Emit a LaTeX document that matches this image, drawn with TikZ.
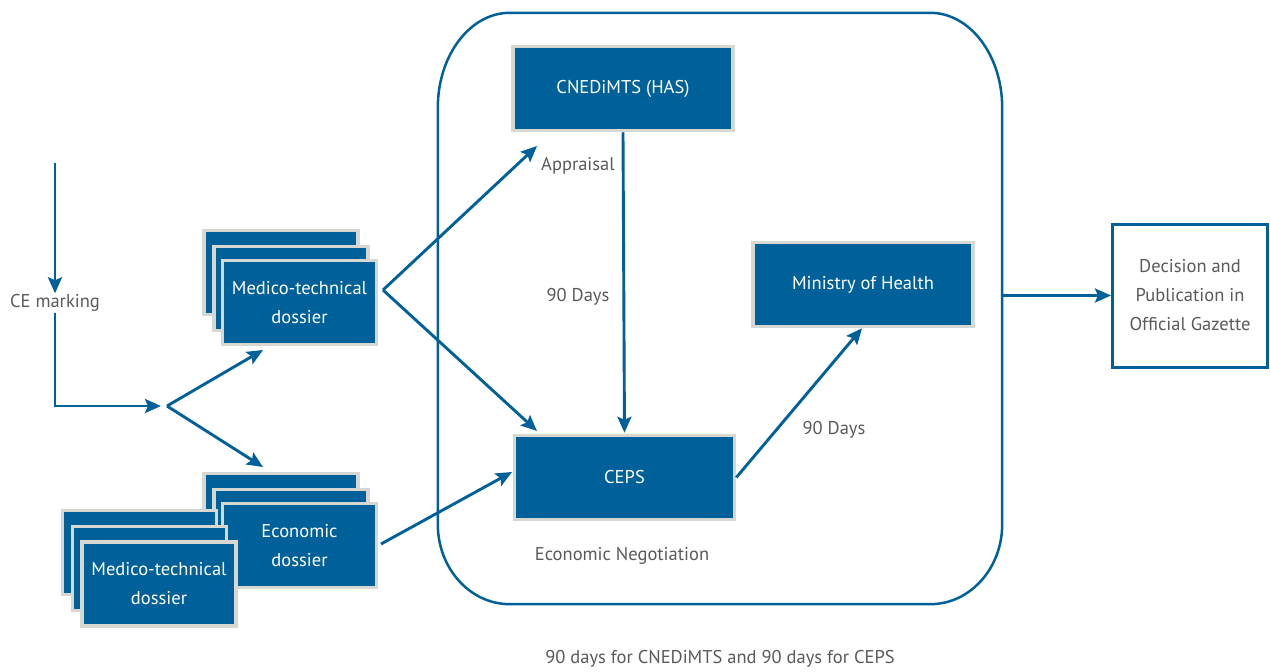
\documentclass[tikz,border=0pt]{standalone}
\usepackage{fontspec}
\setmainfont{PT Sans}
\usetikzlibrary{arrows.meta}
\definecolor{myblue}{HTML}{00609A}
\definecolor{mygray}{HTML}{D8D8D2}
\definecolor{txtgray}{HTML}{5A5A5A}
\begin{document}
\begin{tikzpicture}[x=1pt,y=-1pt,
  font=\fontsize{18.5}{21}\selectfont,
  bluebox/.style={fill=myblue, draw=mygray, line width=3.5pt, text=white, align=center, inner sep=0pt, minimum width=154pt, minimum height=84pt},
  bigbox/.style={bluebox, minimum width=220pt, minimum height=84pt},
  lbl/.style={text=txtgray, align=center, inner sep=1pt},
  conn/.style={draw=myblue, line width=2.9pt},
  arr/.style={conn, -{Stealth[length=16pt,width=14pt,inset=3pt]}}
]
\useasboundingbox (0,0) rectangle (1270,672);
\fill[white] (0,0) rectangle (1270,672);

% container
\node[minimum width=564pt, minimum height=591pt, inner sep=0pt] (frame) at (720,308.5) {};
\draw[myblue, line width=2.5pt]
  (frame.north west) ++(72,0) -- ([xshift=-72pt]frame.north east)
  arc[start angle=90, end angle=0, x radius=72, y radius=-95]
  -- ([yshift=80pt]frame.south east)
  arc[start angle=0, end angle=-90, x radius=72, y radius=-80]
  -- ([xshift=72pt]frame.south west)
  arc[start angle=270, end angle=180, x radius=72, y radius=-80]
  -- ([yshift=-95pt]frame.north west)
  arc[start angle=180, end angle=90, x radius=72, y radius=-95];

% main boxes
\node[bigbox] (cned) at (623,88.5) {CNEDiMTS (HAS)};
\node[bigbox] (ceps) at (624.5,477.5) {CEPS};
\node[bigbox] (min) at (863,284.5) {Ministry of Health};
\node[draw=myblue, fill=white, line width=3pt, minimum width=155pt, minimum height=143pt, inner sep=0pt, lbl, font=\fontsize{18.5}{29}\selectfont] (dec) at (1190,295.5) {Decision and\\Publication in\\Official Gazette};

% top medico-technical stack
\node[bluebox] (mtA) at (281,272.5) {};
\node[bluebox] (mtB) at (291,288.5) {};
\node[bluebox, font=\fontsize{18.5}{29}\selectfont] (mt) at (299.5,302.5) {Medico-technical\\dossier};

% economic stack
\node[bluebox] (ecA) at (281,515.5) {};
\node[bluebox] (ecB) at (291,531.5) {};
\node[bluebox, font=\fontsize{18.5}{29}\selectfont] (ec) at (299.5,545.5) {Economic\\dossier};

% lower medico-technical stack
\node[bluebox] (mlA) at (139.5,552.5) {};
\node[bluebox] (mlB) at (149.5,568.5) {};
\node[bluebox, font=\fontsize{18.5}{29}\selectfont] (ml) at (159,584) {Medico-technical\\dossier};

% labels
\node[lbl] (ce) at (55,303) {CE marking};
\node[lbl] (appr) at (578,166) {Appraisal};
\node[lbl] (d1) at (578,297) {90 Days};
\node[lbl] (d2) at (834,430) {90 Days};
\node[lbl] (neg) at (622,556) {Economic Negotiation};
\node[lbl] (foot) at (720,659) {90 days for CNEDiMTS and 90 days for CEPS};

% coordinates
\coordinate (cetop) at (55,163);
\coordinate (corner) at (55,406);
\coordinate (forkin) at (161,406);
\coordinate (fork) at (167,406);
\coordinate (toMT) at (263,350);
\coordinate (toEC) at (263,467);
\coordinate (split) at (383,290);
\coordinate (toCned) at (537,146);
\coordinate (toCeps) at (537,431);
\coordinate (ecout) at (381,544);
\coordinate (toCepsL) at (512,472);

% connectors
\draw[arr] (cetop) -- (ce.north);
\draw[arr] (ce.south) -- (corner) -- (forkin);
\draw[arr] (fork) -- (toMT);
\draw[arr] (fork) -- (toEC);
\draw[arr] (split) -- (toCned);
\draw[arr] (split) -- (toCeps);
\draw[arr] (ecout) -- (toCepsL);
\draw[arr] (cned.south) -- ([yshift=1pt]ceps.north);
\draw[arr] (ceps.east) -- ([xshift=-1pt]min.south);
\draw[arr] (frame.east |- dec.west) -- (dec.west);
\end{tikzpicture}
\end{document}
